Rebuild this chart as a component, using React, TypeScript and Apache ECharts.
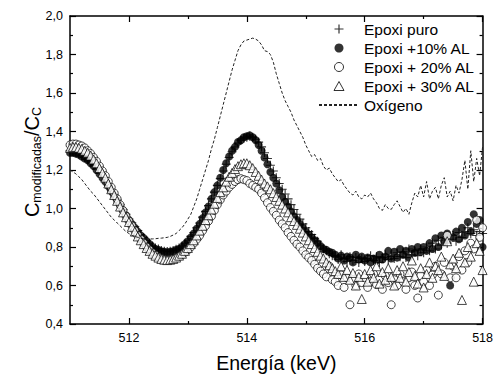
import React, { useEffect, useRef } from "react";
import * as echarts from "echarts";

const FONT = "Liberation Sans, Arial, sans-serif";

// Energy grid (keV), 0.05 keV steps from 511 to 518
const energies: number[] = Array.from({ length: 141 }, (_, i) => +(511 + i * 0.05).toFixed(2));

const xMajorTicks = [512, 514, 516, 518];
const xMinorTicks = [513, 515, 517];

const seriesNames = ["Epoxi puro", "Epoxi +10% AL", "Epoxi + 20% AL", "Epoxi + 30% AL", "Oxígeno"];

const epoxiPuro = [
  1.30, 1.295, 1.29, 1.285, 1.275, 1.265, 1.255, 1.24, 1.225, 1.205,
  1.185, 1.165, 1.145, 1.12, 1.095, 1.07, 1.045, 1.02, 0.995, 0.97,
  0.945, 0.925, 0.905, 0.885, 0.865, 0.85, 0.835, 0.82, 0.805, 0.795,
  0.79, 0.782, 0.778, 0.776, 0.778, 0.782, 0.788, 0.795, 0.805, 0.82,
  0.835, 0.855, 0.875, 0.90, 0.925, 0.955, 0.985, 1.015, 1.05, 1.085,
  1.12, 1.155, 1.195, 1.23, 1.265, 1.295, 1.32, 1.34, 1.355, 1.365,
  1.37, 1.375, 1.37, 1.36, 1.345, 1.32, 1.29, 1.26, 1.225, 1.195,
  1.16, 1.13, 1.10, 1.075, 1.05, 1.02, 0.995, 0.97, 0.945, 0.92,
  0.90, 0.88, 0.865, 0.845, 0.83, 0.81, 0.79, 0.78, 0.765, 0.755,
  0.75, 0.735, 0.76, 0.74, 0.725, 0.75, 0.73, 0.745, 0.72, 0.74,
  0.725, 0.74, 0.755, 0.73, 0.75, 0.72, 0.745, 0.76, 0.735, 0.75,
  0.74, 0.77, 0.75, 0.775, 0.745, 0.79, 0.76, 0.78, 0.755, 0.79,
  0.77, 0.80, 0.78, 0.82, 0.79, 0.835, 0.81, 0.85, 0.82, 0.84,
  0.86, 0.83, 0.875, 0.85, 0.88, 0.90, 0.87, 0.89, 0.86, 0.88,
  0.87,
];

const epoxi10 = [
  1.29, 1.29, 1.285, 1.28, 1.27, 1.26, 1.25, 1.235, 1.22, 1.20,
  1.18, 1.16, 1.14, 1.115, 1.09, 1.065, 1.04, 1.015, 0.99, 0.965,
  0.94, 0.92, 0.90, 0.88, 0.86, 0.845, 0.83, 0.815, 0.80, 0.79,
  0.785, 0.778, 0.775, 0.773, 0.775, 0.778, 0.785, 0.79, 0.80, 0.815,
  0.83, 0.85, 0.87, 0.895, 0.92, 0.95, 0.98, 1.01, 1.05, 1.085,
  1.12, 1.16, 1.20, 1.235, 1.27, 1.30, 1.32, 1.345, 1.355, 1.37,
  1.375, 1.38, 1.37, 1.355, 1.33, 1.30, 1.265, 1.23, 1.19, 1.16,
  1.13, 1.095, 1.06, 1.035, 1.01, 0.985, 0.96, 0.94, 0.92, 0.90,
  0.88, 0.865, 0.85, 0.835, 0.82, 0.805, 0.79, 0.785, 0.775, 0.77,
  0.76, 0.74, 0.755, 0.73, 0.75, 0.745, 0.72, 0.76, 0.735, 0.75,
  0.73, 0.745, 0.72, 0.74, 0.73, 0.76, 0.735, 0.75, 0.78, 0.74,
  0.775, 0.745, 0.79, 0.76, 0.78, 0.745, 0.79, 0.77, 0.80, 0.775,
  0.80, 0.78, 0.82, 0.79, 0.845, 0.80, 0.86, 0.83, 0.87, 0.60,
  0.85, 0.88, 0.84, 0.90, 0.86, 0.93, 0.88, 0.97, 0.92, 0.94,
  0.80,
];

const epoxi20 = [
  1.33, 1.335, 1.335, 1.33, 1.325, 1.315, 1.30, 1.285, 1.265, 1.245,
  1.22, 1.195, 1.17, 1.14, 1.11, 1.08, 1.05, 1.02, 0.99, 0.96,
  0.935, 0.91, 0.885, 0.86, 0.84, 0.82, 0.80, 0.785, 0.77, 0.758,
  0.748, 0.74, 0.735, 0.732, 0.733, 0.736, 0.742, 0.75, 0.76, 0.772,
  0.785, 0.80, 0.82, 0.84, 0.86, 0.885, 0.91, 0.935, 0.96, 0.99,
  1.02, 1.045, 1.07, 1.09, 1.11, 1.125, 1.14, 1.15, 1.155, 1.15,
  1.145, 1.13, 1.12, 1.11, 1.10, 1.08, 1.055, 1.03, 1.005, 0.985,
  0.965, 0.94, 0.92, 0.90, 0.875, 0.855, 0.835, 0.815, 0.80, 0.78,
  0.76, 0.745, 0.73, 0.71, 0.69, 0.675, 0.66, 0.645, 0.70, 0.63,
  0.62, 0.60, 0.655, 0.59, 0.64, 0.50, 0.63, 0.60, 0.66, 0.615,
  0.64, 0.59, 0.62, 0.66, 0.605, 0.635, 0.58, 0.65, 0.615, 0.50,
  0.63, 0.60, 0.66, 0.62, 0.58, 0.64, 0.67, 0.60, 0.535, 0.65,
  0.62, 0.68, 0.60, 0.655, 0.70, 0.55, 0.66, 0.72, 0.86, 0.64,
  0.70, 0.64, 0.75, 0.68, 0.78, 0.72, 0.82, 0.79, 0.94, 0.85,
  0.90,
];

const epoxi30 = [
  1.315, 1.32, 1.32, 1.315, 1.31, 1.30, 1.29, 1.275, 1.255, 1.235,
  1.21, 1.185, 1.16, 1.13, 1.10, 1.07, 1.04, 1.01, 0.98, 0.955,
  0.93, 0.905, 0.88, 0.855, 0.835, 0.815, 0.795, 0.78, 0.765, 0.755,
  0.745, 0.738, 0.734, 0.732, 0.734, 0.738, 0.745, 0.755, 0.765, 0.78,
  0.795, 0.815, 0.835, 0.86, 0.885, 0.91, 0.94, 0.965, 0.995, 1.025,
  1.055, 1.085, 1.11, 1.14, 1.165, 1.185, 1.205, 1.22, 1.23, 1.235,
  1.235, 1.225, 1.21, 1.19, 1.17, 1.15, 1.13, 1.115, 1.10, 1.08,
  1.06, 1.04, 1.02, 1.00, 0.98, 0.955, 0.935, 0.915, 0.895, 0.875,
  0.855, 0.835, 0.815, 0.795, 0.775, 0.755, 0.74, 0.72, 0.705, 0.69,
  0.675, 0.66, 0.70, 0.645, 0.68, 0.63, 0.665, 0.60, 0.645, 0.53,
  0.66, 0.62, 0.68, 0.64, 0.70, 0.61, 0.67, 0.63, 0.69, 0.645,
  0.60, 0.68, 0.64, 0.70, 0.62, 0.67, 0.73, 0.65, 0.61, 0.69,
  0.59, 0.66, 0.72, 0.64, 0.70, 0.68, 0.75, 0.65, 0.83, 0.71,
  0.74, 0.69, 0.77, 0.525, 0.72, 0.80, 0.75, 0.62, 0.82, 0.78,
  0.68,
];

const oxigeno = [
  1.20, 1.19, 1.18, 1.165, 1.15, 1.13, 1.11, 1.09, 1.075, 1.055,
  1.035, 1.015, 0.995, 0.975, 0.955, 0.94, 0.925, 0.91, 0.895, 0.88,
  0.87, 0.86, 0.855, 0.85, 0.845, 0.843, 0.842, 0.842, 0.842, 0.843,
  0.845, 0.846, 0.848, 0.85, 0.855, 0.862, 0.87, 0.885, 0.90, 0.92,
  0.945, 0.97, 1.01, 1.05, 1.10, 1.15, 1.20, 1.25, 1.31, 1.36,
  1.42, 1.48, 1.54, 1.60, 1.66, 1.72, 1.77, 1.82, 1.85, 1.87,
  1.875, 1.88, 1.885, 1.88, 1.87, 1.85, 1.82, 1.815, 1.80, 1.76,
  1.70, 1.65, 1.60, 1.56, 1.53, 1.50, 1.46, 1.43, 1.40, 1.37,
  1.33, 1.30, 1.27, 1.28, 1.25, 1.26, 1.22, 1.20, 1.21, 1.18,
  1.16, 1.14, 1.15, 1.12, 1.10, 1.08, 1.07, 1.09, 1.06, 1.05,
  1.07, 1.06, 1.08, 1.05, 1.03, 1.00, 0.99, 1.02, 1.00, 0.995,
  1.02, 1.04, 1.01, 0.98, 1.00, 0.97, 1.03, 1.08, 1.06, 1.12,
  1.06, 1.14, 1.05, 1.09, 1.11, 1.05, 1.12, 1.16, 1.06, 1.09,
  1.04, 1.12, 1.08, 1.15, 1.25, 1.10, 1.30, 1.14, 1.26, 1.17,
  1.32,
];

const PLUS = "path://M5,0L5,10M0,5L10,5";
const TRI = "path://M5,0L10,9L0,9Z";

const pair = (vals: number[]) => energies.map((e, i) => [e, vals[i]]);

export default function App() {
  const ref = useRef<HTMLDivElement>(null);
  useEffect(() => {
    document.body.style.margin = "0";
    if (!ref.current) return;
    const chart = echarts.init(ref.current, null, { renderer: "svg" });
    const axisLine = { show: true, lineStyle: { color: "#000", width: 1.5 } };
    const labelStyle = { color: "#000", fontFamily: FONT, fontSize: 12.5 };
    const xAxisBase = {
      type: "value",
      min: 511,
      max: 518,
      gridIndex: 0,
      splitLine: { show: false },
    };
    const yAxisBase = {
      type: "value",
      min: 0.4,
      max: 2.0,
      interval: 0.2,
      splitLine: { show: false },
    };
    const option: any = {
      animation: false,
      backgroundColor: "#fff",
      textStyle: { fontFamily: FONT },
      grid: { left: 70, right: 13, top: 16, bottom: 52, containLabel: false },
      legend: {
        orient: "vertical",
        left: 318,
        top: 21,
        padding: 0,
        itemGap: 3,
        itemWidth: 40,
        itemHeight: 9,
        selectedMode: false,
        symbolKeepAspect: true,
        textStyle: { fontSize: 15.5, color: "#000", fontFamily: FONT },
        data: [
          { name: seriesNames[0], icon: PLUS, itemStyle: { color: "transparent", borderColor: "#000", borderWidth: 1.2 } },
          { name: seriesNames[1], icon: "circle", itemStyle: { color: "#000", borderColor: "#000", borderWidth: 0 } },
          { name: seriesNames[2], icon: "circle", itemStyle: { color: "#fff", borderColor: "#000", borderWidth: 1 } },
          { name: seriesNames[3], icon: TRI, itemStyle: { color: "#fff", borderColor: "#000", borderWidth: 1 } },
          { name: seriesNames[4], itemStyle: { color: "transparent", borderColor: "transparent", borderWidth: 0, opacity: 0 } },
        ],
      },
      xAxis: [
        {
          ...xAxisBase,
          position: "bottom",
          axisLine,
          axisTick: { show: true, inside: true, length: 6, customValues: xMajorTicks, lineStyle: { color: "#000", width: 1.2 } },
          axisLabel: { ...labelStyle, margin: 7, customValues: xMajorTicks, formatter: (v: number) => String(v) },
          name: "Energía (keV)",
          nameLocation: "middle",
          nameGap: 29,
          nameTextStyle: { color: "#000", fontFamily: FONT, fontSize: 19.5 },
        },
        {
          ...xAxisBase,
          position: "bottom",
          axisLine: { show: false },
          axisTick: { show: true, inside: true, length: 3, customValues: xMinorTicks, lineStyle: { color: "#000", width: 1.2 } },
          axisLabel: { show: false },
        },
        {
          ...xAxisBase,
          position: "top",
          axisLine,
          axisTick: { show: true, inside: true, length: 6, customValues: xMajorTicks, lineStyle: { color: "#000", width: 1.2 } },
          axisLabel: { show: false },
        },
        {
          ...xAxisBase,
          position: "top",
          axisLine: { show: false },
          axisTick: { show: true, inside: true, length: 3, customValues: xMinorTicks, lineStyle: { color: "#000", width: 1.2 } },
          axisLabel: { show: false },
        },
      ],
      yAxis: [
        {
          ...yAxisBase,
          position: "left",
          axisLine,
          axisTick: { show: true, inside: true, length: 6, lineStyle: { color: "#000", width: 1.2 } },
          minorTick: { show: true, splitNumber: 2, length: 3, lineStyle: { color: "#000", width: 1.2 } },
          axisLabel: { ...labelStyle, margin: 7, formatter: (v: number) => v.toFixed(1).replace(".", ",") },
        },
        {
          ...yAxisBase,
          position: "right",
          axisLine,
          axisTick: { show: true, inside: true, length: 6, lineStyle: { color: "#000", width: 1.2 } },
          minorTick: { show: true, splitNumber: 2, length: 3, lineStyle: { color: "#000", width: 1.2 } },
          axisLabel: { show: false },
        },
      ],
      graphic: [
        {
          type: "text",
          x: 33,
          y: 162,
          rotation: Math.PI / 2,
          style: {
            text: "{b|C}{s|modificadas}{b|/C}{s|C}",
            align: "center",
            verticalAlign: "middle",
            fill: "#000",
            rich: {
              b: { fontSize: 20, lineHeight: 21, padding: [0, 0, 3, 0], fontFamily: FONT, fill: "#000", verticalAlign: "middle" },
              s: { fontSize: 12.5, lineHeight: 13, fontFamily: FONT, fill: "#000", verticalAlign: "bottom" },
            },
          },
        },
      ],
      series: [
        {
          name: seriesNames[0],
          type: "scatter",
          symbol: PLUS,
          symbolSize: 9,
          itemStyle: { color: "transparent", borderColor: "#000", borderWidth: 1.1 },
          emphasis: { disabled: true },
          data: pair(epoxiPuro),
        },
        {
          name: seriesNames[1],
          type: "scatter",
          symbol: "circle",
          symbolSize: 8,
          itemStyle: { color: "#000" },
          emphasis: { disabled: true },
          data: pair(epoxi10),
        },
        {
          name: seriesNames[2],
          type: "scatter",
          symbol: "circle",
          symbolSize: 8,
          itemStyle: { color: "#fff", borderColor: "#000", borderWidth: 0.9 },
          emphasis: { disabled: true },
          data: pair(epoxi20),
        },
        {
          name: seriesNames[3],
          type: "scatter",
          symbol: "triangle",
          symbolSize: 9,
          itemStyle: { color: "#fff", borderColor: "#000", borderWidth: 0.9 },
          emphasis: { disabled: true },
          data: pair(epoxi30),
        },
        {
          name: seriesNames[4],
          type: "line",
          symbol: "none",
          showSymbol: false,
          lineStyle: { color: "#222", width: 1, type: [3, 2] },
          itemStyle: { color: "#222" },
          emphasis: { disabled: true },
          data: pair(oxigeno),
        },
      ],
    };
    chart.setOption(option);
    return () => chart.dispose();
  }, []);
  return <div ref={ref} style={{ width: 496, height: 378 }} />;
}
